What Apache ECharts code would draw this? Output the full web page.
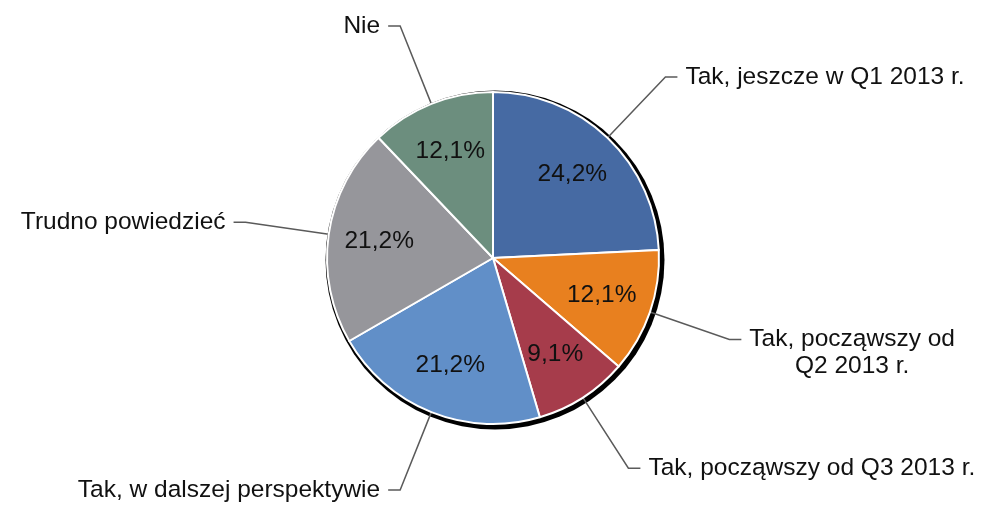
<!DOCTYPE html>
<html>
<head>
<meta charset="utf-8">
<script src="https://cdn.jsdelivr.net/npm/echarts@6/dist/echarts.min.js"></script>
<style>
  html, body { margin: 0; padding: 0; background: #ffffff; }
  #chart { width: 989px; height: 506px; }
</style>
</head>
<body>
<div id="chart"></div>
<script>
// Answers, clockwise from 12 o'clock
const categories = [
  'Tak, jeszcze w Q1 2013 r.',
  'Tak, począwszy od\nQ2 2013 r.',
  'Tak, począwszy od Q3 2013 r.',
  'Tak, w dalszej perspektywie',
  'Trudno powiedzieć',
  'Nie'
];
// Share of respondents, %
const shares = [24.2, 12.1, 9.1, 21.2, 21.2, 12.1];
const sliceColors = ['#466aa3', '#e8801f', '#a63c4b', '#618fc8', '#96969b', '#6c8e7e'];

const FONT = "'Liberation Sans', Arial, Helvetica, sans-serif";
const FONT_SIZE = 24.5;
const LINE_H = 27;
const CENTER = [493, 258];
const R = 166;

const pct = v => v.toFixed(1).replace('.', ',') + '%';

// Outside labels: multi-line names get centred lines, anchored on the first line
const sliceData = categories.map((name, i) => {
  const lines = name.split('\n');
  const item = {
    name: name,
    value: shares[i],
    itemStyle: { color: sliceColors[i] }
  };
  if (lines.length > 1) {
    item.label = {
      formatter: lines.map(l => '{c|' + l + '}').join('\n'),
      padding: [(lines.length - 1) * LINE_H, 0, 0, 0]
    };
  }
  return item;
});

const chart = echarts.init(document.getElementById('chart'), null, { renderer: 'canvas' });

chart.setOption({
  backgroundColor: '#ffffff',
  animation: false,
  series: [
    {
      // dark drop edge behind the disc
      type: 'pie',
      silent: true,
      z: 1,
      center: [CENTER[0] + 2, CENTER[1] + 2],
      radius: R + 3.5,
      label: { show: false },
      labelLine: { show: false },
      itemStyle: { color: '#000000', borderWidth: 0 },
      data: [{ value: 1 }]
    },
    {
      type: 'pie',
      z: 2,
      silent: true,
      center: CENTER,
      radius: R,
      startAngle: 90,
      clockwise: true,
      avoidLabelOverlap: false,
      itemStyle: { borderColor: '#ffffff', borderWidth: 2 },
      label: {
        show: true,
        position: 'outside',
        alignTo: 'none',
        distanceToLabelLine: 8,
        fontFamily: FONT,
        fontSize: FONT_SIZE,
        lineHeight: LINE_H,
        color: '#111111',
        overflow: 'none',
        formatter: p => p.name,
        rich: {
          c: { align: 'center', fontFamily: FONT, fontSize: FONT_SIZE, lineHeight: LINE_H, color: '#111111' }
        }
      },
      labelLine: {
        show: true,
        length: 84,
        length2: 12,
        smooth: false,
        lineStyle: { color: '#5a5a5a', width: 1.5 }
      },
      emphasis: { disabled: true },
      data: sliceData
    },
    {
      // percentage labels inside the slices
      type: 'pie',
      z: 3,
      silent: true,
      center: CENTER,
      radius: [58, R],
      startAngle: 90,
      clockwise: true,
      itemStyle: { color: 'rgba(0,0,0,0)', borderWidth: 0 },
      label: {
        show: true,
        position: 'inside',
        fontFamily: FONT,
        fontSize: FONT_SIZE,
        color: '#111111',
        formatter: p => pct(p.value)
      },
      labelLine: { show: false },
      emphasis: { disabled: true },
      data: categories.map((name, i) => ({ name: name, value: shares[i] }))
    }
  ]
});
</script>
</body>
</html>
